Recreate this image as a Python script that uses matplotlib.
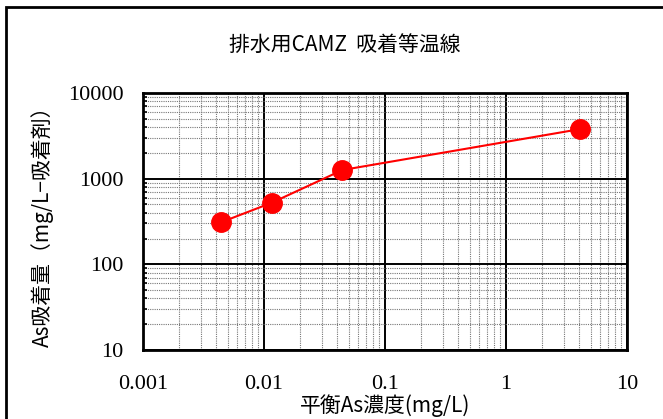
import matplotlib.pyplot as plt
from matplotlib.ticker import LogLocator, NullFormatter, FixedLocator, FixedFormatter
from matplotlib.patches import Rectangle

# serif for the numbers, CJK sans for the labels
plt.rcParams['font.family'] = ['Liberation Serif', 'DejaVu Serif']
cjk = ['Noto Sans CJK JP', 'DejaVu Sans']

# isotherm data
conc = [0.00443, 0.0116, 0.0445, 4.10]     # mg/L
uptake = [310, 524, 1262, 3790]             # mg/L-adsorbent

xticks = [0.001, 0.01, 0.1, 1, 10]
xlabels = ['0.001', '0.01', '0.1', '1', '10']
yticks = [10, 100, 1000, 10000]
ylabels = ['10', '100', '1000', '10000']

fig = plt.figure(figsize=(6.63, 4.19), dpi=100)
ax = fig.add_axes([143/663, 1-350/419, (627-143)/663, (350-93)/419])

# outer frame (cut off at right and bottom)
fig.patches.append(Rectangle((6/663, -0.1), 1.2, 1 - 7/419 + 0.1, transform=fig.transFigure,
                             fill=False, edgecolor='black', linewidth=2))

ax.set_xscale('log')
ax.set_yscale('log')
ax.set_xlim(0.001, 10)
ax.set_ylim(10, 10000)

ax.plot(conc, uptake, color='red', linewidth=1.5, marker='o', markersize=14,
        markeredgecolor='red', zorder=5)

ax.xaxis.set_major_locator(FixedLocator(xticks))
ax.yaxis.set_major_locator(FixedLocator(yticks))
ax.xaxis.set_major_formatter(FixedFormatter(xlabels))
ax.yaxis.set_major_formatter(FixedFormatter(ylabels))
ax.xaxis.set_minor_locator(LogLocator(base=10, subs=range(2, 10)))
ax.yaxis.set_minor_locator(LogLocator(base=10, subs=range(2, 10)))
ax.xaxis.set_minor_formatter(NullFormatter())
ax.yaxis.set_minor_formatter(NullFormatter())

ax.grid(which='major', color='black', linewidth=1.4)
ax.grid(which='minor', color='#777777', linewidth=0.8, linestyle=(0, (1, 1)))
ax.tick_params(which='both', direction='in', labelsize=16)
ax.tick_params(axis='x', which='both', length=0, pad=18)
ax.tick_params(axis='y', which='major', length=0, pad=14)
ax.tick_params(axis='y', which='minor', length=3, width=1.2)
for s in ax.spines.values():
    s.set_linewidth(2)

ax.set_xlabel('平衡As濃度(mg/L)', fontsize=15, labelpad=0, family=cjk)
ax.set_ylabel('As吸着量（mg/L−吸着剤）', fontsize=15, labelpad=10, family=cjk)
fig.text(0.52, 1 - 45/419, '排水用CAMZ  吸着等温線', ha='center', va='center',
         fontsize=15, family=cjk)

fig.savefig('out.png', dpi=100)
